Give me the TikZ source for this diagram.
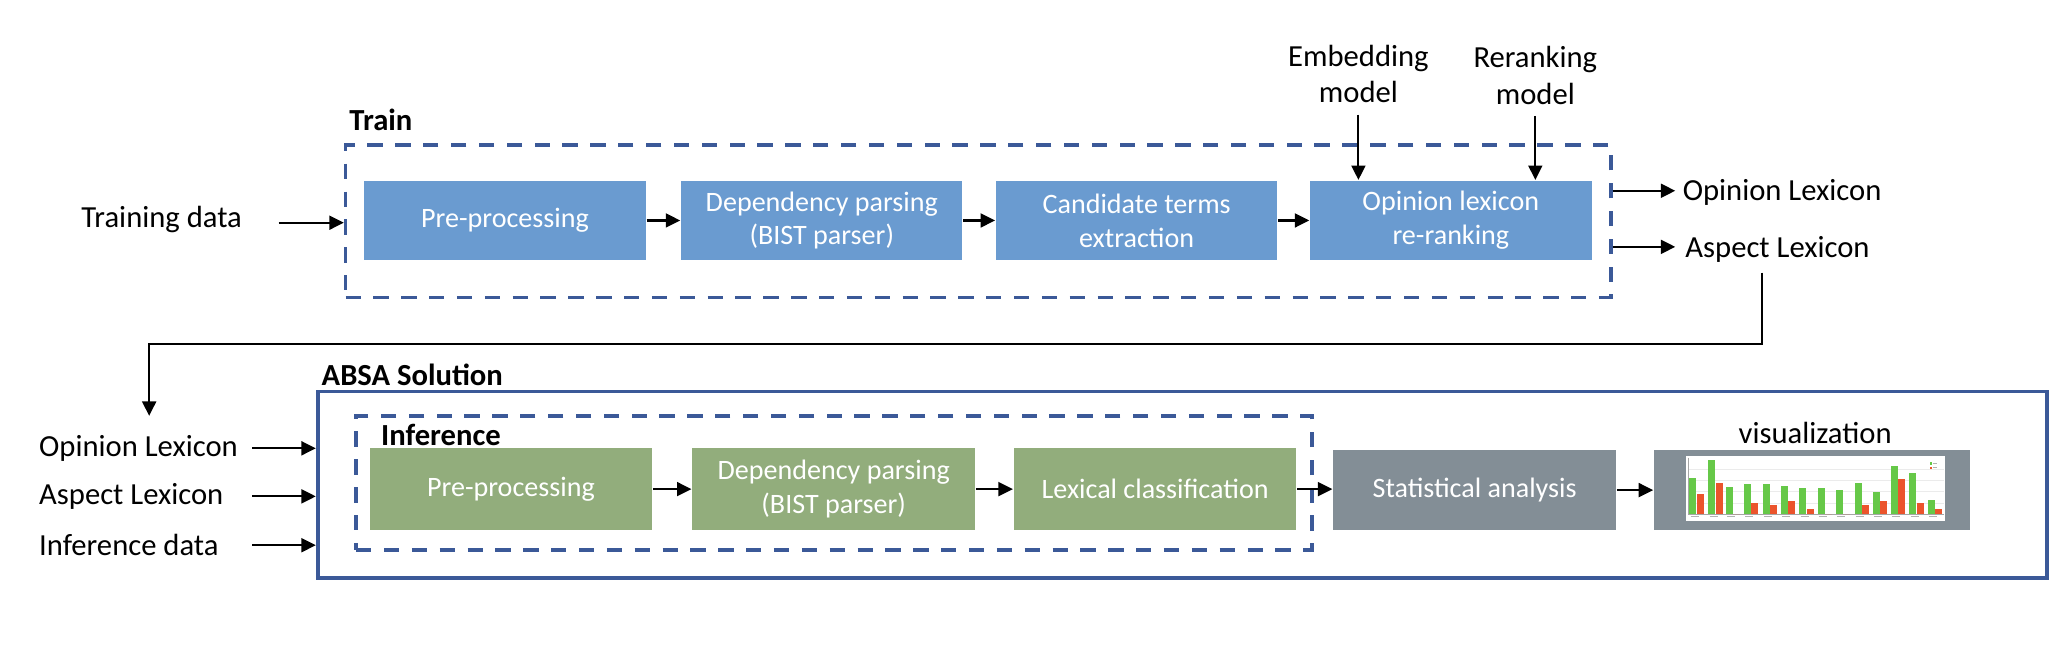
\documentclass[tikz,border=0pt]{standalone}
\usepackage{fontspec}
\setmainfont{Carlito}
\usetikzlibrary{arrows.meta}
\definecolor{boxblue}{RGB}{106,155,208}
\definecolor{boxgreen}{RGB}{146,173,124}
\definecolor{boxgray}{RGB}{131,142,150}
\definecolor{frameblue}{RGB}{59,89,152}
\definecolor{bargreen}{RGB}{102,200,72}
\definecolor{barred}{RGB}{235,84,44}
\begin{document}
\begin{tikzpicture}[x=0.01cm,y=-0.01cm,
  arr/.style={-{Triangle[length=3.1pt,width=3pt]}, line width=0.45pt},
  proc/.style={minimum height=0.6cm, minimum width=2.13cm, inner sep=0pt, text=white, align=center, font=\fontsize{6.05}{7.3}\selectfont},
  bluebox/.style={proc, fill=boxblue},
  greenbox/.style={proc, fill=boxgreen, minimum height=0.62cm, minimum width=2.14cm},
  graybox/.style={proc, fill=boxgray, minimum height=0.605cm, minimum width=2.14cm},
  lbl/.style={inner sep=0pt, align=center, font=\fontsize{6.6}{7.9}\selectfont},
  ttl/.style={inner sep=0pt, anchor=west, font=\fontsize{6.6}{7.9}\selectfont\bfseries},
  dashbox/.style={draw=frameblue, line width=0.75pt, dash pattern=on 3.3pt off 2.7pt, inner sep=0pt},
]
\useasboundingbox (0,0) rectangle (1568,491);

% ---------------- Train ----------------
\node[lbl, anchor=west] (tdata) at (61,166.6) {Training data};
\node[ttl] (trainlbl) at (264,91) {Train};
\node[dashbox, minimum width=9.58cm, minimum height=1.155cm] (train) at (741,167.75) {};
\node[bluebox] (tpp) at (382.5,167) {Pre-processing};
\node[bluebox] (tdep) at (622.5,167) {Dependency parsing\\(BIST parser)};
\node[bluebox] (tcand) at (861,167) {Candidate terms\\extraction};
\node[bluebox] (top) at (1099,167) {Opinion lexicon\\re-ranking};
\node[lbl] (emb) at (1029,56) {Embedding\\model};
\node[lbl] (rer) at (1163,57) {Reranking\\model};
\node[lbl, anchor=west] (oplex) at (1274,146) {Opinion Lexicon};
\node[lbl, anchor=west] (aslex) at (1276,189) {Aspect Lexicon};

\coordinate (tdstart) at (211,168.7);
\draw[arr] (tdstart) -- (tdstart -| train.west);
\draw[arr] (tpp) -- (tdep);
\draw[arr] (tdep) -- (tcand);
\draw[arr] (tcand) -- (top);
\draw[arr] ([yshift=-0.08cm]emb.south) -- (emb.south |- top.north);
\draw[arr] ([yshift=-0.08cm]rer.south) -- (rer.south |- top.north);
\draw[arr] ([yshift=0.015cm]train.east |- oplex.west) -- ([xshift=-0.05cm,yshift=0.015cm]oplex.west);
\draw[arr] ([yshift=0.02cm]train.east |- aslex.west) -- ([xshift=-0.07cm,yshift=0.02cm]aslex.west);

\coordinate (loopy) at (0,260.7);
\coordinate (loopend) at (113,315);
\draw[arr] ([xshift=-0.12cm,yshift=-0.07cm]aslex.south) |- (loopend |- loopy) -- (loopend);

% ---------------- ABSA Solution ----------------
\node[ttl] (absalbl) at (243,284) {ABSA Solution};
\node[draw=frameblue, line width=0.8pt, minimum width=13.09cm, minimum height=1.409cm, inner sep=0pt] (absa) at (895.5,367.15) {};
\node[dashbox, minimum width=7.235cm, minimum height=1.016cm] (inf) at (631.75,365.8) {};
\node[ttl] (inflbl) at (288,329.5) {Inference};

\node[greenbox] (ipp) at (387,370.5) {Pre-processing};
\node[greenbox] (idep) at (631.5,370.5) {Dependency parsing\\(BIST parser)};
\node[greenbox] (ilex) at (875,370.5) {Lexical classification};
\node[graybox] (stat) at (1117,371.25) {Statistical analysis};
\node[graybox, minimum width=2.39cm] (vis) at (1372.5,371.25) {};
\node[lbl] (vislbl) at (1375,328) {visualization};

% chart image
\begin{scope}[shift={(1277.1,345.4)}, x=0.002525cm, y=-0.002525cm]
  \fill[white] (0,0) rectangle (780,197);
  \foreach \yy in {40,74,108,142} \draw[black!8, line width=0.2pt] (8,\yy) -- (775,\yy);
  \draw[black!35, line width=0.25pt] (8,5) -- (8,175) -- (775,175);
  \foreach \gx/\gt/\rt in {148/143/192, 205/90/160, 258/172/253, 313/162/220, 369/162/226, 424/168/213, 479/174/237, 534/174/253, 589/179/253, 645/159/226, 700/187/213, 755/108/148, 810/128/220, 865/210/237}{
    \fill[bargreen] (\gx-138,\gt-78) rectangle (\gx-117,175);
    \fill[barred] (\gx-116,\rt-78) rectangle (\gx-95,175);
    \draw[black!30, line width=0.2pt] (\gx-134,183) -- (\gx-110,183);
  }
  \fill[bargreen] (733,19) rectangle (740,26);
  \fill[barred] (733,32) rectangle (740,39);
  \draw[black!30, line width=0.2pt] (744,22.5) -- (756,22.5);
  \draw[black!30, line width=0.2pt] (744,35.5) -- (756,35.5);
\end{scope}

\node[lbl, anchor=west] (inop) at (29,339.6) {Opinion Lexicon};
\node[lbl, anchor=west] (inas) at (29,376) {Aspect Lexicon};
\node[lbl, anchor=west] (indata) at (29,413) {Inference data};
\coordinate (instart) at (191,0);
\draw[arr] (instart |- inop) -- (absa.west |- inop);
\draw[arr] (instart |- inas) -- (absa.west |- inas);
\draw[arr] (instart |- indata) -- (absa.west |- indata);

\draw[arr] (ipp) -- (idep);
\draw[arr] (idep) -- (ilex);
\draw[arr] (ilex.east) -- (ilex.east -| stat.west);
\draw[arr] (stat.east) -- (stat.east -| vis.west);
\end{tikzpicture}
\end{document}
